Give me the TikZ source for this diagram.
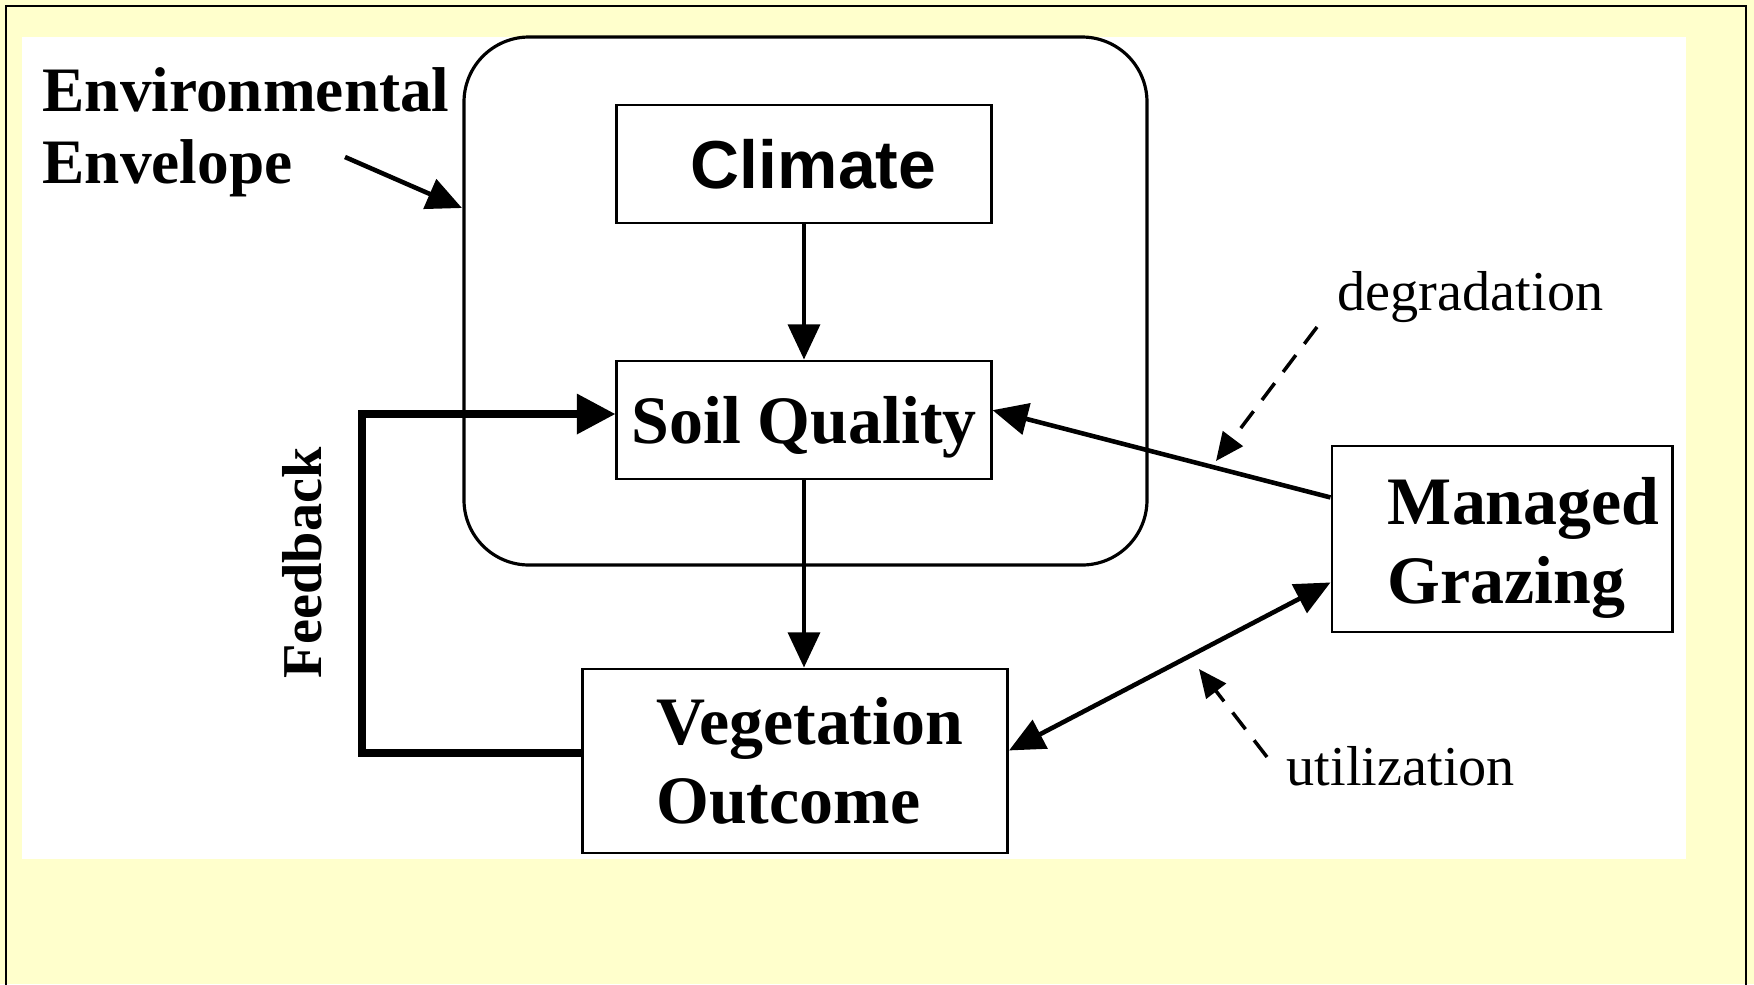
\documentclass[tikz,border=0pt]{standalone}
\usepackage{fontspec}
\setmainfont{Liberation Serif}
\newfontfamily\arialfont{Liberation Sans}
\usetikzlibrary{arrows.meta,calc}
\definecolor{paleyellow}{HTML}{FFFFCC}

\begin{document}
\begin{tikzpicture}[x=0.01cm,y=-0.01cm,
    box/.style={draw,line width=0.8pt,fill=white,inner ysep=0pt,align=left,
        font=\bfseries\fontsize{19.3}{22.5}\selectfont},
    arr/.style={line width=1.3pt,-{Triangle[length=10pt,width=9pt]}},
    dasharr/.style={line width=1pt,dash pattern=on 6pt off 4pt,-{Triangle[length=8pt,width=7pt]}},
    lbl/.style={inner sep=0pt,anchor=base west,font=\fontsize{16}{19}\selectfont}]
    \clip (0,0) rectangle (1754,984);
    %background
    \fill[paleyellow] (0,0) rectangle (1754,984);
    \draw[line width=0.7pt] (6,6) rectangle (1746,1010);
    \fill[white] (22,37) rectangle (1686,859);
    %envelope
    \draw[line width=0.9pt,rounded corners=18.5pt] (464,37) rectangle (1147,565);
    \node[inner sep=0pt,anchor=north west,align=left,font=\bfseries\fontsize{18}{20.5}\selectfont]
        (env) at (42,67) {Environmental\\Envelope};
    %boxes
    \node[box,inner xsep=7.4mm,text width=22.6mm,minimum height=11.8mm,
        font=\arialfont\bfseries\fontsize{19.3}{22.5}\selectfont]
        (climate) at (804,164) {Climate};
    \node[box,inner xsep=0pt,minimum width=37.4mm,minimum height=11.8mm,text depth=0pt]
        (soil) at (804,420) {Soil Quality};
    \node[box,inner xsep=7.4mm,text width=27.7mm,minimum height=18.4mm] (veg) at (795,761) {Vegetation\\Outcome};
    \node[box,inner xsep=5.6mm,text width=22.8mm,minimum height=18.6mm,text depth=21.5pt]
        (graze) at (1502,539) {Managed\\Grazing};
    %labels
    \node[rotate=90,inner sep=0pt,font=\bfseries\fontsize{16}{19}\selectfont] (fb) at (302,563) {Feedback};
    \node[lbl] (degr) at (1337,310) {degradation};
    \node[lbl] (util) at (1286,785) {utilization};
    %connectors
    \draw[arr] (climate) -- (soil);
    \draw[arr] (soil.south) -- (soil.south |- veg.north);
    \draw[line width=2.2pt,-{Triangle[length=11pt,width=11pt]}]
        ([yshift=2.3pt]veg.west) -- ++(-219,0) |- ([yshift=1.7pt]soil.west);
    \draw[arr] ($(graze.north west)!0.28!(graze.south west)$) -- ([yshift=2.8pt]soil.east);
    \draw[line width=1.3pt,{Triangle[length=10pt,width=9pt]}-{Triangle[length=10pt,width=9pt]}]
        ([yshift=3pt]veg.east) -- ($(graze.north west)!0.73!(graze.south west)$);
    \coordinate (envtail) at (345,157);
    \coordinate (envtip) at (462,208);
    \draw[arr] (envtail) -- (envtip);
    \coordinate (dgtail) at (1317,327);
    \coordinate (dgtip) at (1216,461);
    \draw[dasharr] (dgtail) -- (dgtip);
    \coordinate (uttail) at (1267,757);
    \coordinate (uttip) at (1199,669);
    \draw[dasharr] (uttail) -- (uttip);
\end{tikzpicture}
\end{document}
